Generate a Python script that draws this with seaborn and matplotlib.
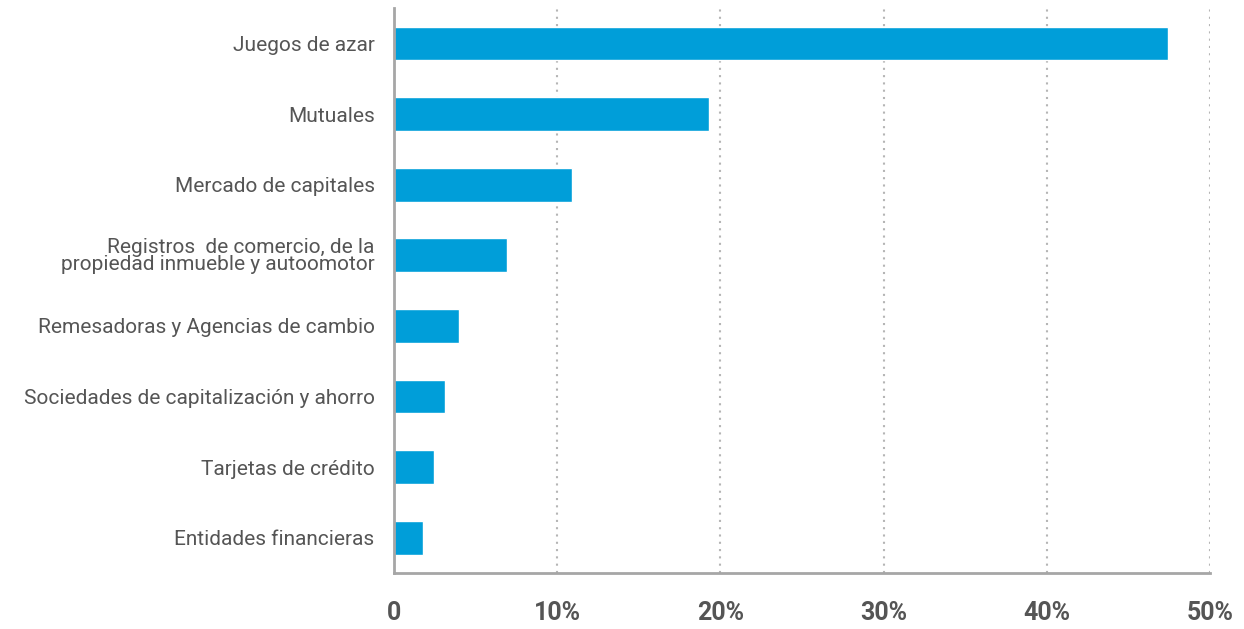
import numpy as np
import pandas as pd
import matplotlib
matplotlib.use("Agg")
import matplotlib.pyplot as plt
import seaborn as sns
from matplotlib.ticker import FixedLocator, FuncFormatter

# Values (share of reports, %)
CATEGORIES = [
    'Juegos de azar',
    'Mutuales',
    'Mercado de capitales',
    'Registros  de comercio, de la\npropiedad inmueble y autoomotor',
    'Remesadoras y Agencias de cambio',
    'Sociedades de capitalización y ahorro',
    'Tarjetas de crédito',
    'Entidades financieras',
]
SHARES = [47.4, 19.3, 10.9, 6.9, 4.0, 3.1, 2.45, 1.8]
X_TICKS = [0, 10, 20, 30, 40, 50]

BAR_COLOR = '#009ed9'
GRID_COLOR = '#a6a6a6'
TEXT_COLOR = '#555555'

sns.set_style('white')
plt.rcParams['font.family'] = ['Roboto', 'DejaVu Sans']

df = pd.DataFrame({'sector': CATEGORIES, 'share': SHARES})

fig = plt.figure(figsize=(12.44, 6.29), dpi=100)
ax = fig.add_axes([0.3167, 0.089, 0.656, 0.898])

sns.barplot(data=df, x='share', y='sector', color=BAR_COLOR, width=0.48,
            saturation=1, ax=ax, zorder=3)

ax.set_xlim(0, 50)
ax.set_ylim(len(CATEGORIES) - 0.5, -0.5)
ax.xaxis.set_major_locator(FixedLocator(X_TICKS))
ax.xaxis.set_major_formatter(FuncFormatter(lambda v, p: '0' if v == 0 else f'{v:.0f}%'))

ax.grid(axis='x', linestyle=(0, (1, 2.5)), color='#b5b5b5', linewidth=1.5, zorder=0)
ax.grid(axis='y', visible=False)

for side in ['top', 'right']:
    ax.spines[side].set_visible(False)
for side in ['left', 'bottom']:
    ax.spines[side].set_color(GRID_COLOR)
    ax.spines[side].set_linewidth(2)
ax.spines['left'].set_zorder(4)

ax.tick_params(axis='x', direction='in', length=8, width=2, color=GRID_COLOR,
               pad=20, labelsize=18, labelcolor=TEXT_COLOR)
for lbl in ax.get_xticklabels():
    lbl.set_fontweight('bold')
ax.tick_params(axis='y', length=0, pad=14, labelsize=15, labelcolor=TEXT_COLOR)
for lbl in ax.get_yticklabels():
    lbl.set_linespacing(0.85)

ax.set_xlabel('')
ax.set_ylabel('')

fig.savefig('out.png', dpi=100)
plt.close(fig)
